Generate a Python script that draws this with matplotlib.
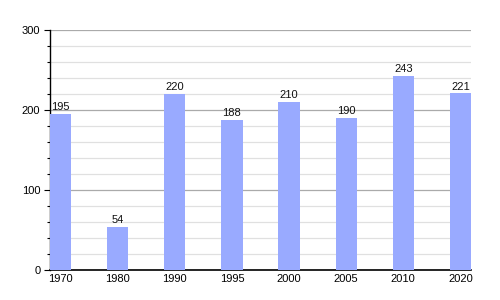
import matplotlib
matplotlib.use('Agg')
import matplotlib.pyplot as plt
from matplotlib.ticker import MultipleLocator

years = ['1970', '1980', '1990', '1995', '2000', '2005', '2010', '2020']
values = [195, 54, 220, 188, 210, 190, 243, 221]

plt.rcParams['font.family'] = ['Liberation Sans', 'DejaVu Sans']

fig = plt.figure(figsize=(5, 3), dpi=100)
ax = fig.add_axes([0.1, 0.1, 0.842, 0.8])

xs = list(range(len(years)))
bars = ax.bar(xs, values, width=0.37, color='#99aaff', zorder=3)
for x, v in zip(xs, values):
    ax.text(x, v + 2, str(v), ha='center', va='bottom', fontsize=8, color='#111111', zorder=4)

ax.set_xlim(-0.185, 7.185)
ax.set_ylim(0, 300)
ax.set_xticks(xs)
ax.set_xticklabels(years)
ax.yaxis.set_major_locator(MultipleLocator(100))
ax.yaxis.set_minor_locator(MultipleLocator(20))
ax.grid(axis='y', which='major', color='#aaaaaa', linewidth=0.9, zorder=1)
ax.grid(axis='y', which='minor', color='#e0e0e0', linewidth=0.9, zorder=1)

for s in ['top', 'right']:
    ax.spines[s].set_visible(False)
ax.spines['left'].set_linewidth(1.0)
ax.spines['bottom'].set_linewidth(1.2)
ax.tick_params(axis='x', length=0, labelsize=8, pad=3)
ax.tick_params(axis='y', which='major', length=4, width=0.8, labelsize=8, pad=3)
ax.tick_params(axis='y', which='minor', length=2, width=0.8)

fig.savefig('out.png', dpi=100)
